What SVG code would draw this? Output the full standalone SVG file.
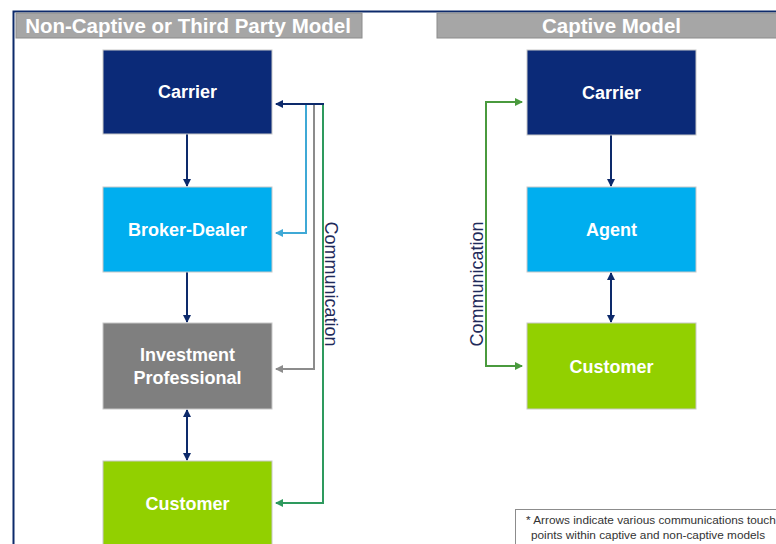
<svg xmlns="http://www.w3.org/2000/svg" width="776" height="544" viewBox="0 0 776 544">
<style>
.hdr{fill:#a6a6a6;stroke:#8c8c8c;stroke-width:1}
.ht{font-family:"Liberation Sans",Arial,sans-serif;font-weight:bold;font-size:20.5px;fill:#fff;text-anchor:middle}
.box{stroke:#c8c8c8;stroke-width:1}
.nt{font-family:"Liberation Sans",Arial,sans-serif;font-weight:bold;font-size:18px;fill:#fff;text-anchor:middle}
.ct{font-family:"Liberation Sans",Arial,sans-serif;font-size:18px;fill:#1f2a5a;text-anchor:middle}
.ln{fill:none;stroke-width:2}
.fn{font-family:"Liberation Sans",Arial,sans-serif;font-size:11.8px;fill:#333}
</style>
<defs>
<marker id="aN" markerWidth="8" markerHeight="8" refX="7" refY="4" orient="auto-start-reverse" markerUnits="userSpaceOnUse"><path d="M0,0 L8,4 L0,8 Z" fill="#0d2a6b"/></marker>
<marker id="aB" markerWidth="8" markerHeight="8" refX="7" refY="4" orient="auto" markerUnits="userSpaceOnUse"><path d="M0,0 L8,4 L0,8 Z" fill="#3fa9d6"/></marker>
<marker id="aG" markerWidth="8" markerHeight="8" refX="7" refY="4" orient="auto" markerUnits="userSpaceOnUse"><path d="M0,0 L8,4 L0,8 Z" fill="#8c8c8c"/></marker>
<marker id="aT" markerWidth="8" markerHeight="8" refX="7" refY="4" orient="auto" markerUnits="userSpaceOnUse"><path d="M0,0 L8,4 L0,8 Z" fill="#2e9a5e"/></marker>
<marker id="aE" markerWidth="8" markerHeight="8" refX="7" refY="4" orient="auto-start-reverse" markerUnits="userSpaceOnUse"><path d="M0,0 L8,4 L0,8 Z" fill="#4a9a3e"/></marker>
</defs>
<rect width="776" height="544" fill="#fff"/>
<g id="frame">
<path d="M13.5,544 V11.5 H776" fill="none" stroke="#0d2a6b" stroke-width="2"/>
</g>
<g id="header-left"><rect class="hdr" x="16" y="13" width="346" height="25"/><text class="ht" x="188" y="33">Non-Captive or Third Party Model</text></g>
<g id="header-right"><rect class="hdr" x="437" y="13" width="340" height="25"/><text class="ht" x="611.5" y="33">Captive Model</text></g>

<g id="connectors">
<line class="ln" x1="187" y1="134" x2="187" y2="186" stroke="#0d2a6b" marker-end="url(#aN)"/>
<line class="ln" x1="187" y1="272" x2="187" y2="322" stroke="#0d2a6b" marker-end="url(#aN)"/>
<line class="ln" x1="187" y1="410" x2="187" y2="460" stroke="#0d2a6b" marker-start="url(#aN)" marker-end="url(#aN)"/>
<line class="ln" x1="611" y1="135" x2="611" y2="186" stroke="#0d2a6b" marker-end="url(#aN)"/>
<line class="ln" x1="611" y1="273" x2="611" y2="322" stroke="#0d2a6b" marker-start="url(#aN)" marker-end="url(#aN)"/>
<polyline class="ln" points="306,104 306,233 276,233" stroke="#3fa9d6" marker-end="url(#aB)"/>
<polyline class="ln" points="314,104 314,369 276,369" stroke="#8c8c8c" marker-end="url(#aG)"/>
<polyline class="ln" points="323,104 323,503 276,503" stroke="#2e9a5e" marker-end="url(#aT)"/>
<line class="ln" x1="324" y1="104" x2="276" y2="104" stroke="#0d2a6b" marker-end="url(#aN)"/>
<polyline class="ln" points="522,102 486,102 486,366 522,366" stroke="#4a9a3e" marker-start="url(#aE)" marker-end="url(#aE)"/>
<text class="ct" transform="translate(325,284) rotate(90)">Communication</text>
<text class="ct" transform="translate(483,284) rotate(-90)">Communication</text>
</g>

<g id="l-carrier"><rect class="box" x="103" y="50" width="169" height="84" fill="#0b2a78"/><text class="nt" x="187.5" y="98">Carrier</text></g>
<g id="l-broker"><rect class="box" x="103" y="187" width="169" height="85" fill="#00aeef"/><text class="nt" x="187.5" y="236">Broker-Dealer</text></g>
<g id="l-ip"><rect class="box" x="103" y="323" width="169" height="86" fill="#7f7f7f"/><text class="nt" x="187.5" y="361">Investment</text><text class="nt" x="187.5" y="384">Professional</text></g>
<g id="l-customer"><rect class="box" x="103" y="461" width="169" height="90" fill="#92d000"/><text class="nt" x="187.5" y="510">Customer</text></g>

<g id="r-carrier"><rect class="box" x="527" y="50" width="169" height="85" fill="#0b2a78"/><text class="nt" x="611.5" y="99">Carrier</text></g>
<g id="r-agent"><rect class="box" x="527" y="187" width="169" height="85" fill="#00aeef"/><text class="nt" x="611.5" y="236">Agent</text></g>
<g id="r-customer"><rect class="box" x="527" y="323" width="169" height="86" fill="#92d000"/><text class="nt" x="611.5" y="373">Customer</text></g>

<g id="footnote"><rect x="515.5" y="509.5" width="270" height="40" fill="#fff" stroke="#8c8c8c" stroke-width="1"/><text class="fn" x="526" y="524">* Arrows indicate various communications touch</text><text class="fn" x="531" y="539">points within captive and non-captive models</text></g>
</svg>
